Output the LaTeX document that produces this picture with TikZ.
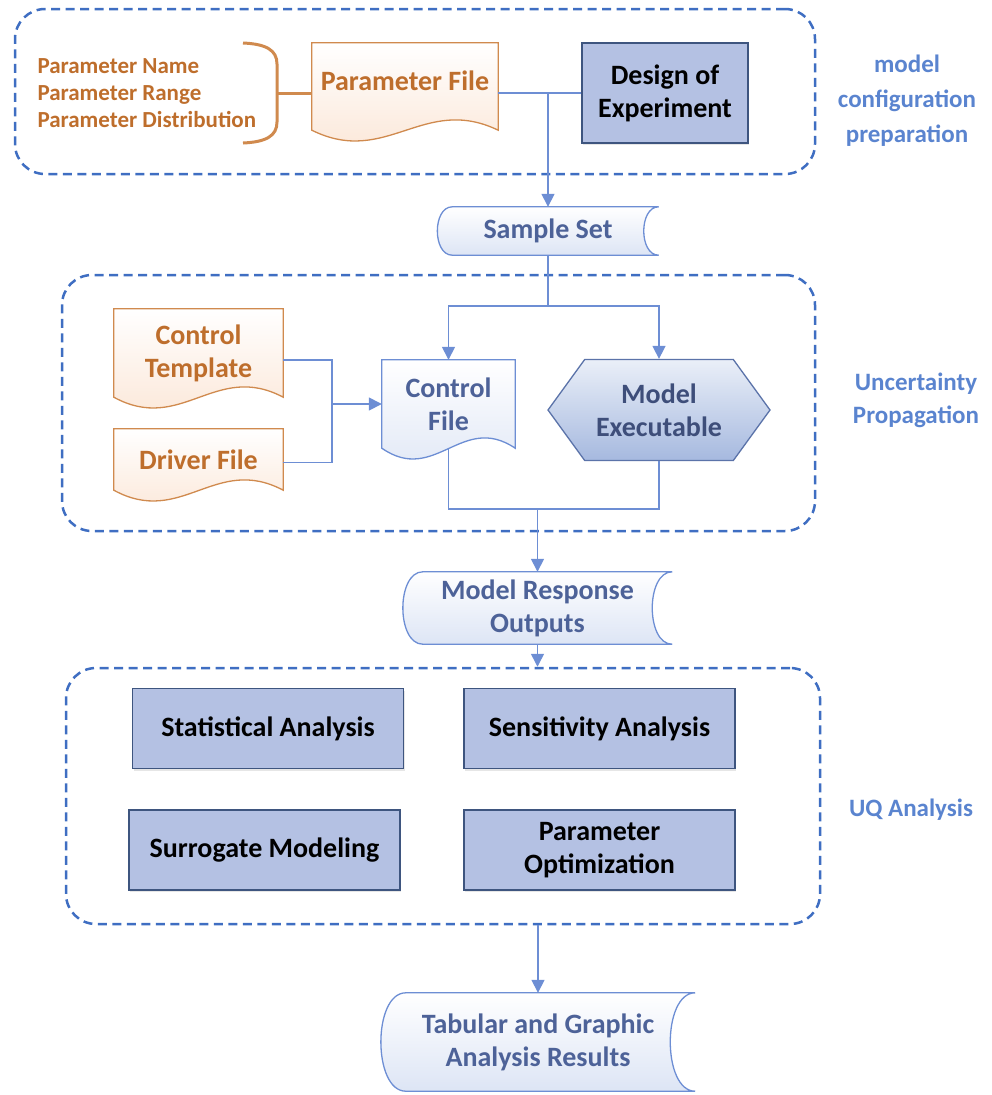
\documentclass[tikz,border=0pt]{standalone}
\usepackage{fontspec}
\setmainfont{Carlito}
\usetikzlibrary{arrows.meta, shapes.symbols, backgrounds, calc, shadows}

\definecolor{frameblue}{HTML}{3F6EC2}
\definecolor{linkblue}{HTML}{6D8ED4}
\definecolor{labelblue}{HTML}{5A84CF}
\definecolor{slateblue}{HTML}{4D6298}
\definecolor{boxfill}{HTML}{B4C1E3}
\definecolor{boxline}{HTML}{3E557F}
\definecolor{orangetext}{HTML}{BE6E2C}
\definecolor{orangeline}{HTML}{D08A4E}
\definecolor{peach}{HTML}{FBE4D3}
\definecolor{paleblue}{HTML}{DDE5F5}
\definecolor{hexline}{HTML}{5B73A9}
\definecolor{hextop}{HTML}{EAEFF8}
\definecolor{hexbot}{HTML}{A6B9DF}

\tikzset{
  group/.style={draw=frameblue, line width=2.5pt, dash pattern=on 9pt off 5.5pt, rounded corners=30pt},
  grouplabel/.style={text=labelblue, font=\bfseries\fontsize{25}{35}\selectfont, align=center},
  link/.style={draw=linkblue, line width=1.5pt},
  arr/.style={link, -{Triangle[width=13pt,length=13pt]}},
  anabox/.style={draw=boxline, fill=boxfill, line width=1.2pt, minimum width=271pt, minimum height=80pt,
    align=center, font=\bfseries\fontsize{28}{33}\selectfont,
    drop shadow={opacity=0.2, shadow xshift=1pt, shadow yshift=-2pt}},
  paperdoc/.style={align=center, inner sep=0pt, font=\bfseries\fontsize{28}{33}\selectfont},
  storage/.style={align=center, inner sep=0pt, text=slateblue, font=\bfseries\fontsize{28}{33}\selectfont},
}

% document outline with a wavy lower edge
\newcommand{\wavedoc}[3]{%
  \path[draw=#2, line width=1.3pt, top color=white, bottom color=#3]
    (#1.north west) -- (#1.north east) -- (#1.south east)
    .. controls ($(#1.south east)!0.4!(#1.south west)+(0pt,36pt)$)
    and ($(#1.south east)!0.6!(#1.south west)+(0pt,-37pt)$) .. (#1.south west) -- cycle;}

% stored data outline
\newcommand{\storeddata}[2]{%
  \path[draw=linkblue, line width=1.3pt, top color=white, bottom color=paleblue]
    ([xshift=#2]#1.north west) -- (#1.north east)
    .. controls ([xshift=-1.33*#2]#1.north east) and ([xshift=-1.33*#2]#1.south east) .. (#1.south east)
    -- ([xshift=#2]#1.south west)
    .. controls ([xshift=-0.33*#2]#1.south west) and ([xshift=-0.33*#2]#1.north west) .. ([xshift=#2]#1.north west) -- cycle;}

\begin{document}
\begin{tikzpicture}[x=1pt, y=-1pt]
\useasboundingbox (0,0) rectangle (991,1095);

% groups
\node[group, minimum width=800pt, minimum height=165pt] (prepgroup) at (415,91.5) {};
\node[group, minimum width=753pt, minimum height=256pt] (upgroup) at (438.5,403) {};
\node[group, minimum width=754pt, minimum height=256pt] (uqgroup) at (443,796) {};

\node[grouplabel] (preplabel) at (907,101) {model\\configuration\\preparation};
\node[grouplabel, font=\bfseries\fontsize{25}{33}\selectfont] (uplabel) at (916,400) {Uncertainty\\Propagation};
\node[grouplabel] (uqlabel) at (911,810) {UQ Analysis};

% configuration
\node[anchor=west, align=left, text=orangetext, font=\bfseries\fontsize{23}{27}\selectfont] (plist) at (34,93)
  {Parameter Name\\Parameter Range\\Parameter Distribution};
\node[paperdoc, text=orangetext, minimum width=186pt, minimum height=87pt, text depth=12pt] (pfile) at (405,86.5) {Parameter File};
\node[anabox, minimum width=166pt, minimum height=100pt] (doe) at (665,93)
  {Design of\\Experiment};
\node[storage, minimum width=221pt, minimum height=48pt] (sample) at (548,231) {Sample Set};

% propagation
\node[paperdoc, text=orangetext, minimum width=169pt, minimum height=88pt] (ctemplate) at (198.5,353) {Control\\Template};
\node[paperdoc, text=orangetext, minimum width=169pt, minimum height=61pt] (driverfile) at (198.5,459.5) {Driver File};
\node[paperdoc, text=slateblue, minimum width=133pt, minimum height=88pt] (cfile) at (448.5,404) {Control\\File};
\node[signal, signal to=east and west, signal pointer angle=108, draw=hexline, line width=1.3pt,
  top color=hextop, bottom color=hexbot, minimum width=222pt, minimum height=101pt, inner sep=0pt,
  text=slateblue!80!black, align=center, font=\bfseries\fontsize{28}{33}\selectfont] (modelexe) at (659,410)
  {Model\\Executable};
\node[storage, minimum width=269pt, minimum height=72pt] (mro) at (537.5,608) {Model Response\\Outputs};

% analysis
\node[anabox] (stat) at (268,728.5) {Statistical Analysis};
\node[anabox] (sens) at (599.5,728.5) {Sensitivity Analysis};
\node[anabox] (surr) at (264.5,850) {Surrogate Modeling};
\node[anabox] (popt) at (599.5,850) {Parameter\\Optimization};
\node[storage, minimum width=314pt, minimum height=98pt] (tabres) at (538,1042) {Tabular and Graphic\\Analysis Results};

\begin{scope}[on background layer]
  \wavedoc{pfile}{orangeline}{peach}
  \wavedoc{ctemplate}{orangeline}{peach}
  \wavedoc{driverfile}{orangeline}{peach}
  \wavedoc{cfile}{linkblue}{paleblue}
  \storeddata{sample}{15pt}
  \storeddata{mro}{20pt}
  \storeddata{tabres}{25pt}
\end{scope}

% brace
\coordinate (bracetip) at (277,93);
\draw[orangeline, line width=3pt] (243,43) .. controls (266,44) and (277,50) .. (277,64) -- (277,122)
  .. controls (277,136) and (266,142) .. (243,143);
\draw[orangeline, line width=3pt] (bracetip) -- (bracetip -| pfile.west);

% connectors
\coordinate (doesplit) at (sample.north |- doe.west);
\coordinate (fork) at (548,306);
\coordinate (join) at ([xshift=-50pt]cfile.west);
\coordinate (merge) at (537.5,509);
\draw[link] (pfile.east |- doe.west) -- (doe.west);
\draw[arr] (doesplit) -- (sample.north);
\draw[link] (sample.south) -- (fork);
\draw[arr] (fork) -| (cfile.north);
\draw[arr] (fork) -| (modelexe.north);
\draw[link] ([yshift=-7pt]ctemplate.east) -| (join);
\draw[link] ([yshift=-3pt]driverfile.east) -| (join);
\draw[arr] (join) -- (cfile.west);
\draw[link] (cfile.south) |- (merge) -| (modelexe.south);
\draw[arr] (merge) -- (mro.north);
\draw[arr] (mro.south) -- (mro.south |- uqgroup.north);
\draw[arr] (tabres.north |- uqgroup.south) -- (tabres.north);
\end{tikzpicture}
\end{document}
